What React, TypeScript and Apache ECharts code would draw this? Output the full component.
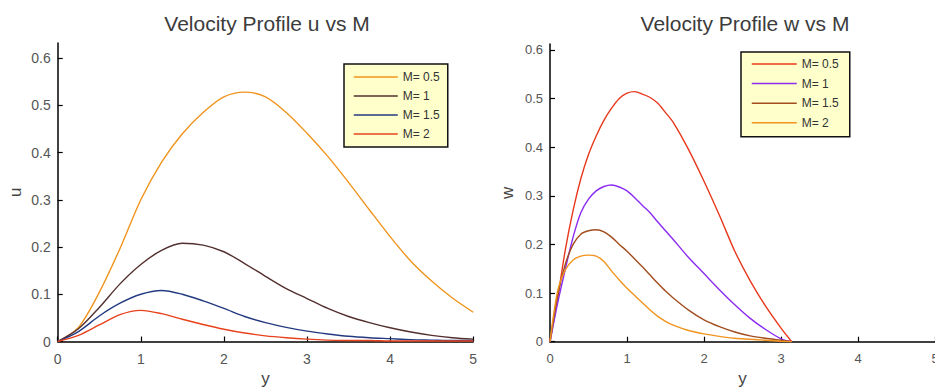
import React, { useEffect, useRef } from "react";
import * as echarts from "echarts";

// ---------- data ----------
const legendNames = ["M= 0.5", "M= 1", "M= 1.5", "M= 2"];

// Left plot: u vs y
const uX = [0, 0.25, 0.5, 0.75, 1, 1.25, 1.5, 1.75, 2, 2.25, 2.5, 2.75, 3, 3.25, 3.5, 3.75, 4, 4.25, 4.5, 4.75, 5];
const uM05 = [0, 0.03, 0.104, 0.197, 0.3, 0.38, 0.44, 0.485, 0.518, 0.528, 0.518, 0.485, 0.441, 0.392, 0.337, 0.279, 0.222, 0.17, 0.128, 0.092, 0.062];
const uM1 = [0, 0.027, 0.072, 0.122, 0.163, 0.193, 0.208, 0.204, 0.19, 0.165, 0.138, 0.112, 0.091, 0.07, 0.053, 0.04, 0.029, 0.02, 0.013, 0.008, 0.005];
const uM15 = [0, 0.021, 0.054, 0.081, 0.1, 0.108, 0.1, 0.086, 0.07, 0.053, 0.04, 0.03, 0.022, 0.016, 0.011, 0.008, 0.006, 0.004, 0.003, 0.002, 0.002];
const uM2 = [0, 0.013, 0.035, 0.057, 0.066, 0.059, 0.047, 0.036, 0.026, 0.018, 0.012, 0.008, 0.005, 0.003, 0.002, 0.002, 0.001, 0.001, 0.001, 0.001, 0.001];

// Right plot: w vs y
const wX = [0, 0.1, 0.2, 0.3, 0.4, 0.5, 0.6, 0.7, 0.8, 0.9, 1.0, 1.1, 1.2, 1.3, 1.4, 1.5, 1.6, 1.8, 2.0, 2.2, 2.4, 2.6, 2.8, 3.0, 3.14];
const wM05 = [0, 0.09, 0.19, 0.27, 0.335, 0.385, 0.423, 0.455, 0.48, 0.5, 0.511, 0.514, 0.509, 0.502, 0.49, 0.471, 0.451, 0.395, 0.33, 0.26, 0.186, 0.125, 0.073, 0.028, 0];
const wM1 = [0, 0.08, 0.15, 0.215, 0.265, 0.293, 0.31, 0.319, 0.322, 0.318, 0.31, 0.296, 0.28, 0.265, 0.246, 0.228, 0.21, 0.173, 0.14, 0.107, 0.076, 0.048, 0.025, 0.006, 0];
const wM15 = [0, 0.095, 0.16, 0.2, 0.221, 0.228, 0.23, 0.226, 0.215, 0.2, 0.186, 0.17, 0.154, 0.137, 0.12, 0.104, 0.09, 0.065, 0.045, 0.031, 0.02, 0.012, 0.007, 0.003, 0];
const wM2 = [0, 0.105, 0.148, 0.168, 0.176, 0.178, 0.176, 0.165, 0.145, 0.127, 0.11, 0.095, 0.08, 0.065, 0.052, 0.042, 0.034, 0.023, 0.016, 0.011, 0.007, 0.005, 0.003, 0.001, 0];

const yTicks = [0, 0.1, 0.2, 0.3, 0.4, 0.5, 0.6];

const leftColors = ["#f0941e", "#53302f", "#233a80", "#e8421c"];
const rightColors = ["#e8381c", "#8b2cf0", "#a24d1e", "#f0941e"];

const FONT = "Liberation Sans";

function zip(xs: number[], ys: number[]) {
  return xs.map((x, i) => [x, ys[i]]);
}

export default function App() {
  const ref = useRef<HTMLDivElement>(null);
  useEffect(() => {
    if (!ref.current) return;
    const chart = echarts.init(ref.current, undefined, { renderer: "svg" });

    const axisLine = { lineStyle: { color: "#000", width: 1.5 } };
    const mkX = (gi: number, fs: number) => ({
      type: "value",
      gridIndex: gi,
      min: 0,
      max: 5,
      interval: 1,
      name: "y",
      nameLocation: "middle",
      nameGap: 28,
      nameTextStyle: { fontSize: 17, color: "#444", fontFamily: FONT },
      axisLine,
      axisTick: { inside: true, length: 5, lineStyle: { color: "#000", width: 1.2 } },
      axisLabel: { color: "#555", fontSize: fs, margin: 10, fontFamily: FONT },
      splitLine: { show: false },
    });
    const mkY = (gi: number, max: number, name: string, fs: number) => ({
      type: "value",
      gridIndex: gi,
      min: 0,
      max,
      name,
      nameLocation: "middle",
      nameGap: 34,
      nameTextStyle: { fontSize: 17, color: "#444", fontFamily: FONT },
      axisLine,
      axisTick: { inside: true, length: 5, customValues: yTicks, lineStyle: { color: "#000", width: 1.2 } },
      axisLabel: { color: "#555", fontSize: fs, margin: 7, customValues: yTicks, fontFamily: FONT },
      splitLine: { show: false },
    });

    const leftData = [uM05, uM1, uM15, uM2];
    const rightData = [wM05, wM1, wM15, wM2];

    const series: any[] = [];
    leftData.forEach((d, i) => {
      series.push({
        type: "line",
        name: legendNames[i],
        xAxisIndex: 0,
        yAxisIndex: 0,
        data: zip(uX, d),
        symbol: "none",
        showSymbol: false,
        smooth: 0.3,
        lineStyle: { color: leftColors[i], width: 1.4 },
        itemStyle: { color: leftColors[i] },
      });
    });
    rightData.forEach((d, i) => {
      series.push({
        type: "line",
        name: legendNames[i],
        xAxisIndex: 1,
        yAxisIndex: 1,
        data: zip(wX, d),
        symbol: "none",
        showSymbol: false,
        smooth: 0.3,
        lineStyle: { color: rightColors[i], width: 1.4 },
        itemStyle: { color: rightColors[i] },
      });
    });

    const mkLegend = (left: number, top: number, colors: string[], gap: number, itemW: number, padding: number[]) => ({
      orient: "vertical",
      left,
      top,
      itemWidth: itemW,
      itemHeight: 10,
      itemGap: gap,
      padding,
      backgroundColor: "#ffffcc",
      borderColor: "#111",
      borderWidth: 1.5,
      selectedMode: false,
      textStyle: { fontSize: 12, color: "#333", fontFamily: FONT },
      data: legendNames.map((n, i) => ({
        name: n,
        itemStyle: { color: colors[i], opacity: 0 },
        lineStyle: { color: colors[i], width: 1.5, opacity: 1 },
      })),
    });

    chart.setOption({
      animation: false,
      backgroundColor: "#ffffff",
      textStyle: { fontFamily: FONT },
      title: [
        {
          text: "Velocity Profile u vs M",
          left: 262,
          top: 8,
          textAlign: "center",
          textStyle: { fontFamily: FONT, fontSize: 21, fontWeight: "normal", color: "#3c3c3c" },
        },
        {
          text: "Velocity Profile w vs M",
          left: 740,
          top: 8,
          textAlign: "center",
          textStyle: { fontFamily: FONT, fontSize: 21, fontWeight: "normal", color: "#3c3c3c" },
        },
      ],
      legend: [
        mkLegend(344, 64, leftColors, 7, 44, [7, 8, 7, 9]),
        mkLegend(741, 52, rightColors, 7.6, 45, [6, 11, 8, 10]),
      ],
      grid: [
        { left: 57.7, top: 43, width: 415.5, height: 298.5, outerBoundsMode: "none", containLabel: false },
        { left: 550, top: 44, width: 385, height: 297.7, outerBoundsMode: "none", containLabel: false },
      ],
      xAxis: [mkX(0, 14), mkX(1, 13)],
      yAxis: [mkY(0, 0.632, "u", 14), mkY(1, 0.612, "w", 13)],
      series,
    });

    return () => chart.dispose();
  }, []);

  return (
    <div
      ref={ref}
      style={{ position: "fixed", left: 0, top: 0, width: 935, height: 387, background: "#fff" }}
    />
  );
}
